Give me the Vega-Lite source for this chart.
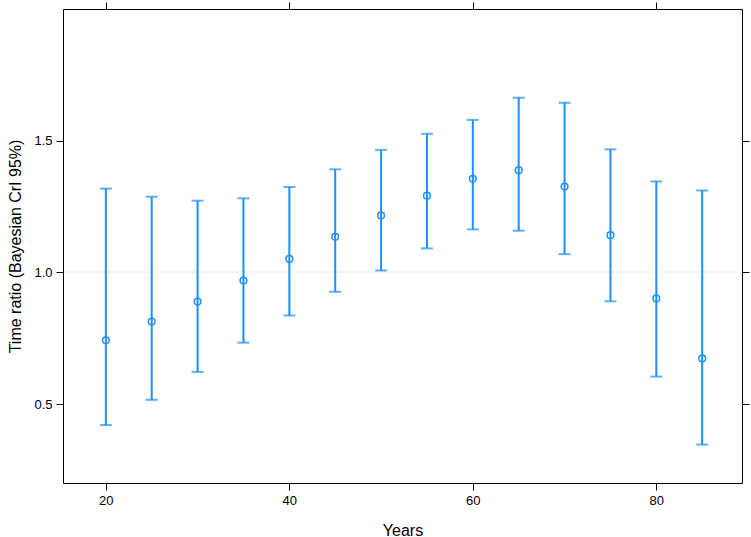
{
  "$schema": "https://vega.github.io/schema/vega-lite/v6.json",
  "width": 679,
  "height": 474,
  "autosize": {"type": "none"},
  "padding": {"left": 63, "top": 9, "right": 9, "bottom": 54},
  "background": "white",
  "config": {
    "view": {"stroke": "black", "strokeWidth": 1},
    "font": "Liberation Sans",
    "axis": {
      "domain": false,
      "grid": false,
      "tickColor": "black",
      "tickSize": 7,
      "tickWidth": 1,
      "labelColor": "black",
      "labelFont": "Liberation Sans",
      "labelFontSize": 13,
      "titleFont": "Liberation Sans",
      "titleFontSize": 16,
      "titleFontWeight": "normal",
      "titleColor": "black"
    }
  },
  "data": {
    "values": [
      {"years": 20, "tr": 0.742, "lo": 0.420, "hi": 1.318},
      {"years": 25, "tr": 0.813, "lo": 0.516, "hi": 1.287},
      {"years": 30, "tr": 0.889, "lo": 0.622, "hi": 1.272},
      {"years": 35, "tr": 0.969, "lo": 0.733, "hi": 1.281},
      {"years": 40, "tr": 1.051, "lo": 0.836, "hi": 1.324},
      {"years": 45, "tr": 1.135, "lo": 0.926, "hi": 1.391},
      {"years": 50, "tr": 1.216, "lo": 1.007, "hi": 1.465},
      {"years": 55, "tr": 1.291, "lo": 1.091, "hi": 1.526},
      {"years": 60, "tr": 1.355, "lo": 1.163, "hi": 1.579},
      {"years": 65, "tr": 1.388, "lo": 1.158, "hi": 1.663},
      {"years": 70, "tr": 1.326, "lo": 1.069, "hi": 1.644},
      {"years": 75, "tr": 1.141, "lo": 0.890, "hi": 1.467},
      {"years": 80, "tr": 0.901, "lo": 0.604, "hi": 1.345},
      {"years": 85, "tr": 0.673, "lo": 0.346, "hi": 1.311}
    ]
  },
  "resolve": {"axis": {"x": "independent", "y": "independent"}},
  "layer": [
    {
      "mark": {"type": "rule", "color": "#ececec", "strokeDash": [2, 2], "strokeWidth": 1},
      "encoding": {
        "y": {"datum": 1, "type": "quantitative", "scale": {"domain": [0.2, 2.0], "nice": false, "zero": false}, "axis": null}
      }
    },
    {
      "mark": {"type": "rule", "color": "#1e8fff", "strokeWidth": 2},
      "encoding": {
        "x": {"field": "years", "type": "quantitative", "scale": {"domain": [15.33, 89.34], "nice": false, "zero": false},
              "axis": {"orient": "bottom", "values": [20, 40, 60, 80], "title": "Years", "labelPadding": 4, "titlePadding": 15}},
        "y": {"field": "lo", "type": "quantitative", "scale": {"domain": [0.2, 2.0], "nice": false, "zero": false},
              "axis": {"orient": "left", "values": [0.5, 1.0, 1.5], "format": ".1f", "title": "Time ratio (Bayesian CrI 95%)", "labelPadding": 4, "titlePadding": 10}},
        "y2": {"field": "hi"}
      }
    },
    {
      "mark": {"type": "tick", "orient": "horizontal", "color": "#1e8fff", "thickness": 2, "size": 12},
      "encoding": {
        "x": {"field": "years", "type": "quantitative", "axis": null},
        "y": {"field": "lo", "type": "quantitative", "axis": null}
      }
    },
    {
      "mark": {"type": "tick", "orient": "horizontal", "color": "#1e8fff", "thickness": 2, "size": 12},
      "encoding": {
        "x": {"field": "years", "type": "quantitative", "axis": null},
        "y": {"field": "hi", "type": "quantitative", "axis": null}
      }
    },
    {
      "mark": {"type": "point", "shape": "circle", "filled": false, "color": "#1e8fff", "size": 45, "strokeWidth": 1.5, "opacity": 1},
      "encoding": {
        "x": {"field": "years", "type": "quantitative",
              "axis": {"orient": "top", "values": [20, 40, 60, 80], "labels": false, "title": null}},
        "y": {"field": "tr", "type": "quantitative",
              "axis": {"orient": "right", "values": [0.5, 1.0, 1.5], "labels": false, "title": null}}
      }
    }
  ]
}
